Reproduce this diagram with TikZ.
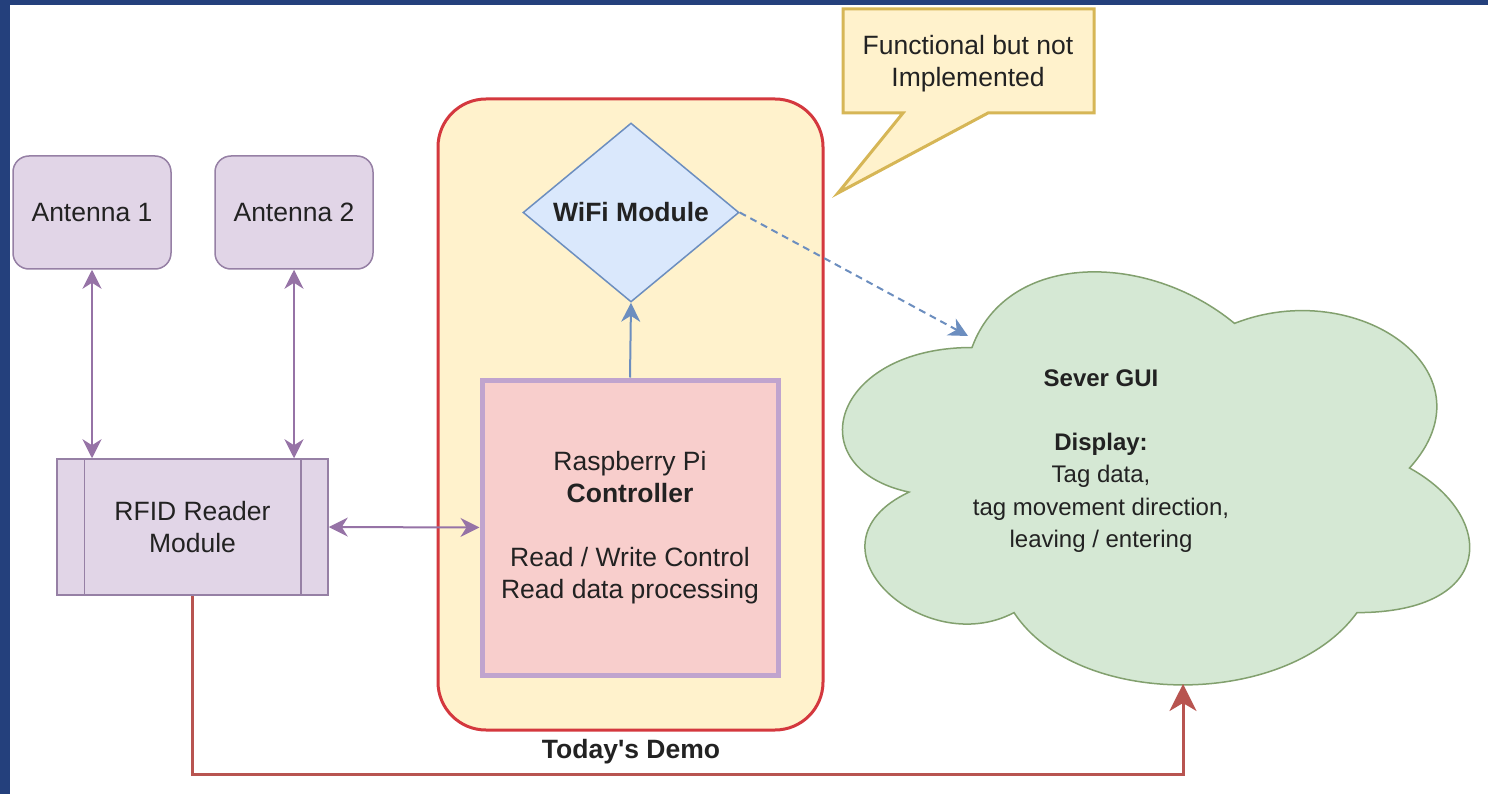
\documentclass[tikz,border=0pt]{standalone}
\usepackage{fontspec}
\setmainfont{Liberation Sans}[Ligatures=TeXOff]
\usetikzlibrary{arrows.meta,shapes.geometric}

\definecolor{frameblue}{RGB}{36,64,124}
\definecolor{textgray}{RGB}{34,34,34}
\definecolor{purfill}{RGB}{225,213,231}
\definecolor{purstroke}{RGB}{150,128,165}
\definecolor{purline}{RGB}{150,115,166}
\definecolor{pistroke}{RGB}{192,164,206}
\definecolor{pifill}{RGB}{248,206,204}
\definecolor{demofill}{RGB}{255,242,204}
\definecolor{demostroke}{RGB}{212,56,62}
\definecolor{bluefill}{RGB}{218,232,252}
\definecolor{bluestroke}{RGB}{108,142,191}
\definecolor{redline}{RGB}{184,84,80}
\definecolor{greenfill}{RGB}{213,232,212}
\definecolor{greenstroke}{RGB}{130,160,110}
\definecolor{notestroke}{RGB}{214,182,86}

\tikzset{
  txt/.style={font=\fontsize{26.5}{32}\selectfont, text=textgray, align=center},
  smalltxt/.style={font=\fontsize{24}{32.3}\selectfont, text=textgray, align=center},
  antbox/.style={txt, draw=purstroke, fill=purfill, line width=1.5pt,
    rounded corners=16pt, minimum width=158pt, minimum height=113pt},
  readerbox/.style={txt, draw=purstroke, fill=purfill, line width=1.5pt,
    minimum width=271pt, minimum height=136pt},
  pibox/.style={txt, draw=pistroke, fill=pifill, line width=5pt,
    minimum width=296pt, minimum height=295pt},
  demobox/.style={draw=demostroke, fill=demofill, line width=3pt,
    rounded corners=48pt, minimum width=385pt, minimum height=631pt},
  wifibox/.style={txt, font=\fontsize{26.5}{32}\selectfont\bfseries, diamond, aspect=1.2,
    draw=bluestroke, fill=bluefill, line width=1.5pt, inner sep=0pt,
    minimum width=216pt, minimum height=179pt},
  purlink/.style={draw=purline, line width=2pt,
    arrows={Stealth[length=19pt,width=19pt,inset=6pt]-Stealth[length=19pt,width=19pt,inset=6pt]}},
  bluelink/.style={draw=bluestroke, line width=2pt,
    arrows={-Stealth[length=19pt,width=19pt,inset=6pt]}},
  redlink/.style={draw=redline, line width=3pt,
    arrows={-Stealth[length=27pt,width=27pt,inset=8pt]}},
}

\begin{document}
\begin{tikzpicture}[x=1pt,y=-1pt]
\useasboundingbox (0,0) rectangle (1488,794);
\fill[white] (0,0) rectangle (1488,794);

% slide frame bands
\fill[frameblue] (0,0) rectangle (1488,5);
\fill[frameblue] (0,0) rectangle (10,794);

% antennas
\node[antbox] (ant1) at (92,212.5) {Antenna 1};
\node[antbox] (ant2) at (294,212.5) {Antenna 2};

% RFID reader (process shape)
\node[readerbox] (rfid) at (192.5,527) {RFID Reader\\Module};
\draw[purstroke, line width=1.5pt]
  ([xshift=28pt]rfid.north west) -- ([xshift=28pt]rfid.south west)
  ([xshift=-28pt]rfid.north east) -- ([xshift=-28pt]rfid.south east);

% demo container
\node[demobox] (demo) at (630.5,414.5) {};
\node[txt, font=\fontsize{26.5}{32}\selectfont\bfseries] (demolabel) at (631,752) {Today's Demo};

% controller and wifi
\node[pibox] (rpi) at (630,527.5)
  {Raspberry Pi\\\textbf{Controller}\\[32pt]Read / Write Control\\Read data processing};
\node[wifibox] (wifi) at (631,212.5) {WiFi Module};

% server cloud
\begin{scope}[shift={(797,227)}, x=700pt, y=-482pt]
\path[draw=greenstroke, fill=greenfill, line width=1.5pt]
  (0.25,0.25) .. controls (0.05,0.25) and (0,0.5) .. (0.16,0.55)
  .. controls (0,0.66) and (0.18,0.9) .. (0.31,0.8)
  .. controls (0.4,1) and (0.7,1) .. (0.8,0.8)
  .. controls (1,0.8) and (1,0.6) .. (0.875,0.5)
  .. controls (1,0.3) and (0.8,0.1) .. (0.625,0.2)
  .. controls (0.5,0.05) and (0.3,0.05) .. (0.25,0.25) -- cycle;
\end{scope}
\node[smalltxt] (gui) at (1101,461)
  {\textbf{Sever GUI}\\[32pt]\textbf{Display:}\\Tag data,\\tag movement direction,\\leaving / entering};
\coordinate (cloudin) at (968,336);
\coordinate (cloudbot) at (1183,684);
\coordinate (route) at (1183,774);

% callout
\path[draw=notestroke, fill=demofill, line width=3pt, line join=miter]
  (843,9) -- (1094,9) -- (1094,113) -- (988,113) -- (838,193)
  -- (903,113) -- (843,113) -- cycle;
\node[txt] (note) at (968,64) {Functional but not\\Implemented};

% connectors
\draw[purlink] (ant1.south) -- (ant1.south |- rfid.north);
\draw[purlink] (ant2.south) -- (ant2.south |- rfid.north);
\draw[purlink] (rfid.east) -- (rpi.west);
\draw[bluelink] (rpi.north) -- (wifi.south);
\draw[bluelink, dashed, dash pattern=on 7pt off 5pt] (wifi.east) -- (cloudin);
\draw[redlink] (rfid.south) |- (route) -- (cloudbot);
\end{tikzpicture}
\end{document}
